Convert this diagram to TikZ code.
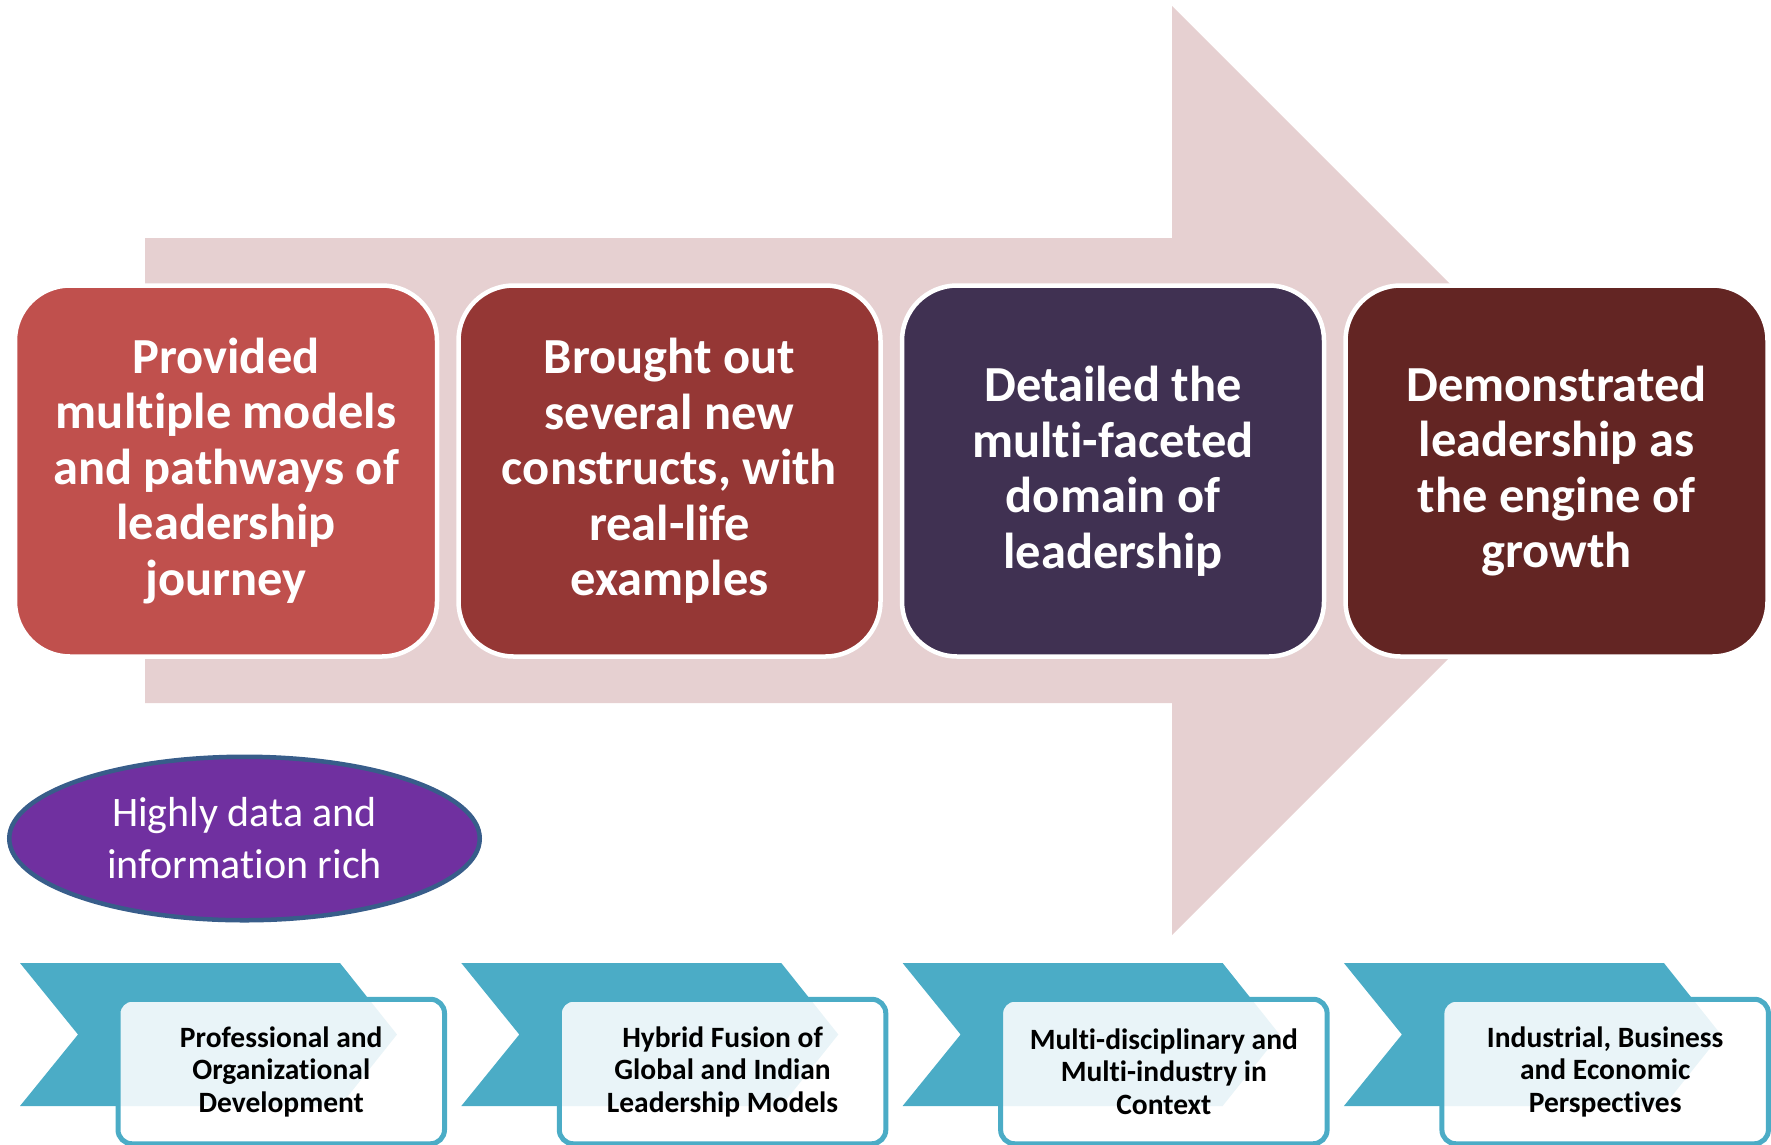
\documentclass[tikz,border=0pt]{standalone}
\usepackage{fontspec}
\setmainfont[RawFeature={-liga}]{Carlito}
\usetikzlibrary{shapes.geometric}
\definecolor{arrowpink}{HTML}{E6D0D1}
\definecolor{boxA}{HTML}{C0504D}
\definecolor{boxB}{HTML}{953735}
\definecolor{boxC}{HTML}{403152}
\definecolor{boxD}{HTML}{632523}
\definecolor{ellfill}{HTML}{7030A0}
\definecolor{ellline}{HTML}{385D8A}
\definecolor{chevcol}{HTML}{4BACC6}
\tikzset{
  bigbox/.style={draw=white, line width=4.5pt, rounded corners=55pt,
    minimum width=422pt, minimum height=371pt, inner sep=0pt, align=center,
    text=white, font=\fontsize{50.5}{55.5}\selectfont\bfseries},
  infoell/.style={ellipse, draw=ellline, line width=4.5pt, fill=ellfill,
    minimum width=470.5pt, minimum height=163.5pt, inner sep=0pt, align=center,
    text=white, font=\fontsize{42}{52}\selectfont},
  chevshape/.style={fill=chevcol},
  tagbox/.style={draw=chevcol, line width=5pt, rounded corners=14pt,
    fill=white, fill opacity=0.88, draw opacity=1, text opacity=1,
    minimum width=326.5pt, minimum height=144.5pt, inner sep=0pt, align=center,
    text=black, font=\fontsize{29.5}{32.5}\selectfont\bfseries}
}
\begin{document}
\begin{tikzpicture}[x=1pt,y=-1pt]
\useasboundingbox (0,0) rectangle (1771,1144);
% big background arrow
\fill[arrowpink] (145,238) -- (1172,238) -- (1172,6) -- (1636.5,470.5)
  -- (1172,935) -- (1172,703) -- (145,703) -- cycle;
% main boxes
\node[bigbox, fill=boxA] (b1) at (226,471)
  {Provided\\multiple models\\and pathways of\\leadership\\journey};
\node[bigbox, fill=boxB] (b2) at (669.5,471)
  {Brought out\\several new\\constructs, with\\real-life\\examples};
\node[bigbox, fill=boxC] (b3) at (1113,471)
  {Detailed the\\multi-faceted\\domain of\\leadership};
\node[bigbox, fill=boxD] (b4) at (1556.5,471)
  {Demonstrated\\leadership as\\the engine of\\growth};
% ellipse
\node[infoell] (ell) at (244.5,838.5) {Highly data and\\information rich};
% chevrons and tags
\foreach \k/\txt in {0/{Professional and\\Organizational\\Development},
                     1/{Hybrid Fusion of\\Global and Indian\\Leadership Models},
                     2/{Multi-disciplinary and\\Multi-industry in\\Context},
                     3/{Industrial, Business\\and Economic\\Perspectives}}{
  \pgfmathsetmacro{\xo}{20+441.3*\k}
  \fill[chevshape] (\xo,963) -- (\xo+320,963) -- (\xo+377,1034.5)
    -- (\xo+320,1106) -- (\xo,1106) -- (\xo+58,1034.5) -- cycle;
  \node[tagbox] (t\k) at (\xo+261.25,1071.5) {\txt};
}
\end{tikzpicture}
\end{document}
